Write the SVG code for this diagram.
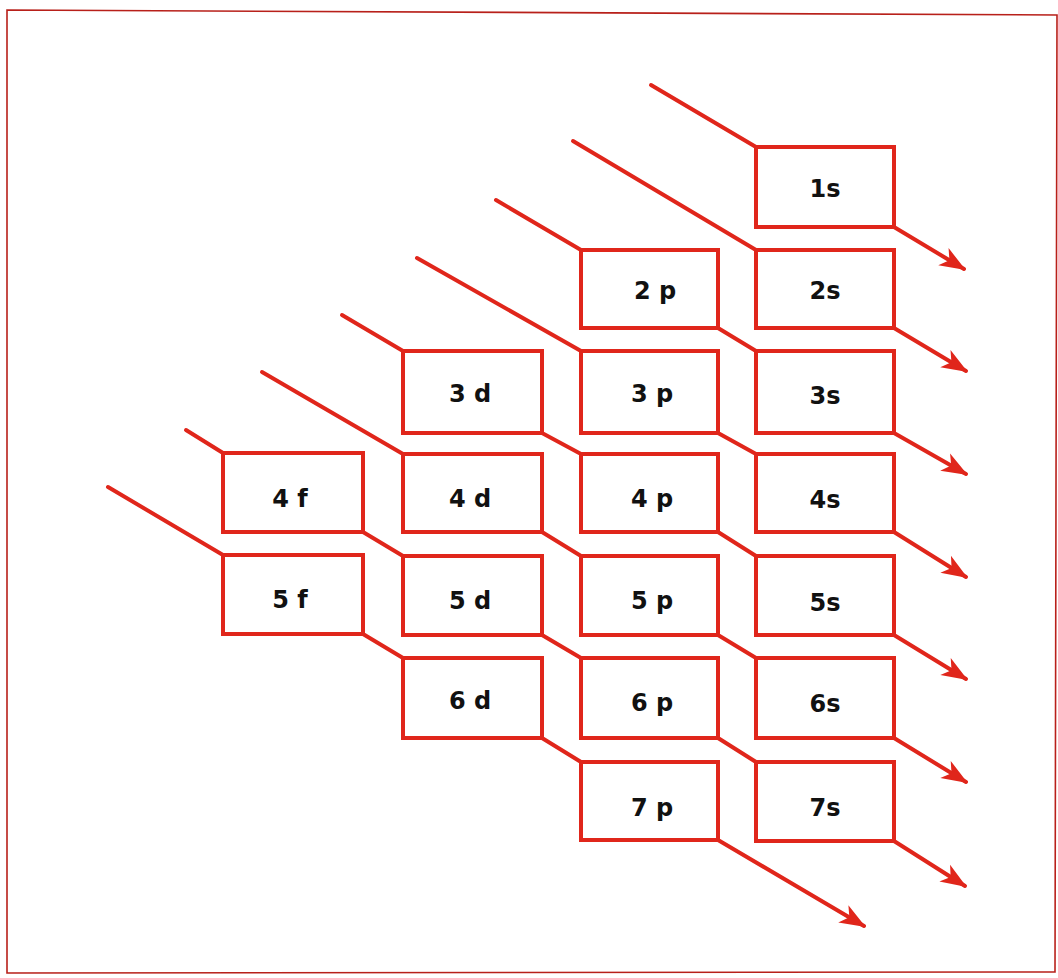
<svg xmlns="http://www.w3.org/2000/svg" width="1058" height="978" viewBox="0 0 1058 978">
<style>
.box{fill:#fff;stroke:#e0261b;stroke-width:4;stroke-linejoin:miter}
.ln{fill:none;stroke:#e0261b;stroke-width:4;stroke-linecap:round;stroke-linejoin:miter}
.lbl{font-family:"DejaVu Sans","Liberation Sans",sans-serif;font-weight:bold;font-size:24px;fill:#111;text-anchor:middle}
</style>
<defs>
<marker id="ah" markerUnits="userSpaceOnUse" markerWidth="30" markerHeight="24" viewBox="-26 -12 30 24" refX="0" refY="0" orient="auto">
<path d="M2,0 L-24,-10 L-17,0 L-24,10 Z" fill="#e0261b"/>
</marker>
</defs>
<rect x="0" y="0" width="1058" height="978" fill="#fff"/>
<path d="M7,10 L1057,15 L1055,972 L7,973 Z" fill="none" stroke="#b8201a" stroke-width="1.6"/>
<g id="connectors">
<polyline class="ln" points="651,85 756,147"/>
<line class="ln" x1="894" y1="227" x2="964" y2="269" marker-end="url(#ah)"/>
<polyline class="ln" points="573,141 756,250"/>
<line class="ln" x1="894" y1="328" x2="966" y2="371" marker-end="url(#ah)"/>
<polyline class="ln" points="496,200 581,250"/>
<polyline class="ln" points="718,328 756,351"/>
<line class="ln" x1="894" y1="433" x2="966" y2="474" marker-end="url(#ah)"/>
<polyline class="ln" points="417,258 581,351"/>
<polyline class="ln" points="718,433 756,454"/>
<line class="ln" x1="894" y1="532" x2="966" y2="577" marker-end="url(#ah)"/>
<polyline class="ln" points="342,315 403,351"/>
<polyline class="ln" points="542,433 581,454"/>
<polyline class="ln" points="718,532 756,556"/>
<line class="ln" x1="894" y1="635" x2="966" y2="679" marker-end="url(#ah)"/>
<polyline class="ln" points="262,372 403,454"/>
<polyline class="ln" points="542,532 581,556"/>
<polyline class="ln" points="718,635 756,658"/>
<line class="ln" x1="894" y1="738" x2="966" y2="782" marker-end="url(#ah)"/>
<polyline class="ln" points="186,430 223,453"/>
<polyline class="ln" points="363,532 403,556"/>
<polyline class="ln" points="542,635 581,658"/>
<polyline class="ln" points="718,738 756,762"/>
<line class="ln" x1="894" y1="841" x2="965" y2="886" marker-end="url(#ah)"/>
<polyline class="ln" points="108,487 223,555"/>
<polyline class="ln" points="363,634 403,658"/>
<polyline class="ln" points="542,738 581,762"/>
<line class="ln" x1="718" y1="840" x2="864" y2="926" marker-end="url(#ah)"/>
</g>
<g id="n1s"><rect class="box" x="756" y="147" width="138" height="80"/><text class="lbl" x="825" y="197">1s</text></g>
<g id="n2p"><rect class="box" x="581" y="250" width="137" height="78"/><text class="lbl" x="655" y="299">2 p</text></g>
<g id="n2s"><rect class="box" x="756" y="250" width="138" height="78"/><text class="lbl" x="825" y="299">2s</text></g>
<g id="n3d"><rect class="box" x="403" y="351" width="139" height="82"/><text class="lbl" x="470" y="402">3 d</text></g>
<g id="n3p"><rect class="box" x="581" y="351" width="137" height="82"/><text class="lbl" x="652" y="402">3 p</text></g>
<g id="n3s"><rect class="box" x="756" y="351" width="138" height="82"/><text class="lbl" x="825" y="404">3s</text></g>
<g id="n4f"><rect class="box" x="223" y="453" width="140" height="79"/><text class="lbl" x="290" y="507">4 f</text></g>
<g id="n4d"><rect class="box" x="403" y="454" width="139" height="78"/><text class="lbl" x="470" y="507">4 d</text></g>
<g id="n4p"><rect class="box" x="581" y="454" width="137" height="78"/><text class="lbl" x="652" y="507">4 p</text></g>
<g id="n4s"><rect class="box" x="756" y="454" width="138" height="78"/><text class="lbl" x="825" y="508">4s</text></g>
<g id="n5f"><rect class="box" x="223" y="555" width="140" height="79"/><text class="lbl" x="290" y="608">5 f</text></g>
<g id="n5d"><rect class="box" x="403" y="556" width="139" height="79"/><text class="lbl" x="470" y="609">5 d</text></g>
<g id="n5p"><rect class="box" x="581" y="556" width="137" height="79"/><text class="lbl" x="652" y="609">5 p</text></g>
<g id="n5s"><rect class="box" x="756" y="556" width="138" height="79"/><text class="lbl" x="825" y="611">5s</text></g>
<g id="n6d"><rect class="box" x="403" y="658" width="139" height="80"/><text class="lbl" x="470" y="709">6 d</text></g>
<g id="n6p"><rect class="box" x="581" y="658" width="137" height="80"/><text class="lbl" x="652" y="711">6 p</text></g>
<g id="n6s"><rect class="box" x="756" y="658" width="138" height="80"/><text class="lbl" x="825" y="712">6s</text></g>
<g id="n7p"><rect class="box" x="581" y="762" width="137" height="78"/><text class="lbl" x="652" y="816">7 p</text></g>
<g id="n7s"><rect class="box" x="756" y="762" width="138" height="79"/><text class="lbl" x="825" y="816">7s</text></g>
</svg>
